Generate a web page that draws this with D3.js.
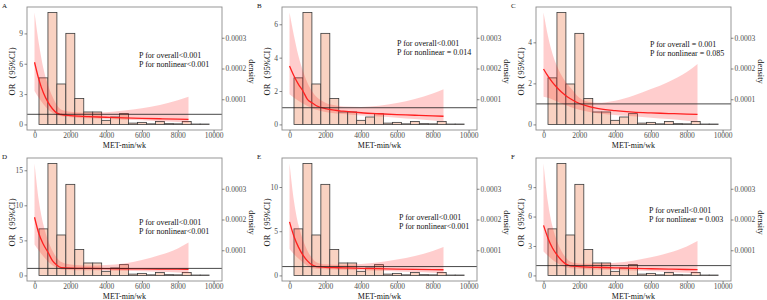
<!DOCTYPE html>
<html>
<head>
<meta charset="utf-8">
<script src="https://cdn.jsdelivr.net/npm/d3@7"></script>
<style>
body { margin: 0; background: #fff; }
svg text { font-family: "Liberation Serif", "Times New Roman", serif; }
</style>
</head>
<body>
<svg id="chart" width="767" height="300"></svg>
<script>
// histogram of MET-min/wk (same sample in every panel), bins 500 wide
var binStart = [250, 750, 1250, 1750, 2250, 2750, 3250, 3750, 4250, 4750,
                5250, 5750, 6250, 6750, 7250, 7750, 8250, 8750, 9250];
var binWidth = 500;
var histDensity = [0.000251, 0.000603, 0.000218, 0.000491, 0.000140, 0.000067, 0.000067, 0.000022, 0.000040, 0.000058,
                   0.000007, 0.000011, 0.000003, 0.000016, 0.000004, 0.000003, 0.000016, 0.000002, 0.000002];

// spline points for the OR curves
var xGrid = [0, 250, 500, 750, 1000, 1250, 1500, 2000, 2500, 3000, 4000, 5000, 6000, 7000, 8000, 8600];

var orA  = [6.15, 4.4, 3.1, 2.2, 1.55, 1.12, 0.98, 0.87, 0.81, 0.77, 0.71, 0.65, 0.6, 0.56, 0.52, 0.5];
var lowA = [3.3, 2.6, 2.0, 1.5, 1.15, 0.9, 0.8, 0.7, 0.64, 0.6, 0.53, 0.47, 0.4, 0.32, 0.25, 0.2];
var upA  = [11.06, 7.9, 5.5, 3.9, 2.75, 1.9, 1.45, 1.25, 1.18, 1.15, 1.2, 1.38, 1.6, 1.93, 2.4, 2.73];

var orB  = [3.5, 2.9, 2.4, 2.0, 1.5, 1.3, 1.12, 0.95, 0.85, 0.79, 0.7, 0.64, 0.59, 0.55, 0.51, 0.49];
var lowB = [1.8, 1.6, 1.42, 1.25, 1.1, 0.98, 0.88, 0.75, 0.67, 0.62, 0.54, 0.47, 0.4, 0.32, 0.24, 0.19];
var upB  = [6.7, 5.3, 4.1, 3.2, 2.5, 2.0, 1.65, 1.3, 1.15, 1.08, 1.05, 1.12, 1.28, 1.52, 1.85, 2.1];

var orC  = [2.7, 2.35, 2.05, 1.8, 1.58, 1.4, 1.25, 1.02, 0.88, 0.78, 0.67, 0.6, 0.56, 0.53, 0.5, 0.49];
var lowC = [1.35, 1.3, 1.22, 1.12, 1.02, 0.93, 0.85, 0.72, 0.62, 0.55, 0.46, 0.4, 0.33, 0.26, 0.18, 0.13];
var upC  = [5.45, 4.3, 3.45, 2.85, 2.4, 2.05, 1.8, 1.3, 1.1, 1.05, 1.15, 1.4, 1.72, 2.08, 2.55, 2.95];

var orD  = [8.3, 5.9, 4.4, 3.3, 2.1, 1.45, 1.1, 1.02, 1.0, 0.99, 0.97, 0.95, 0.93, 0.91, 0.89, 0.88];
var lowD = [4.4, 3.5, 2.7, 2.0, 1.45, 1.05, 0.85, 0.78, 0.75, 0.73, 0.7, 0.66, 0.6, 0.52, 0.42, 0.36];
var upD  = [15.95, 10.5, 7.2, 5.0, 3.5, 2.5, 1.9, 1.55, 1.45, 1.4, 1.49, 1.7, 2.2, 2.9, 3.85, 4.7];

var orE  = [6.05, 4.4, 3.2, 2.3, 1.65, 1.2, 1.0, 0.92, 0.88, 0.85, 0.8, 0.76, 0.72, 0.69, 0.66, 0.64];
var lowE = [3.0, 2.4, 1.9, 1.45, 1.1, 0.85, 0.75, 0.7, 0.66, 0.63, 0.58, 0.52, 0.45, 0.38, 0.3, 0.25];
var upE  = [12.65, 8.4, 5.7, 4.0, 2.8, 2.0, 1.5, 1.25, 1.2, 1.2, 1.3, 1.5, 1.8, 2.2, 2.75, 3.2];

var orF  = [5.1, 3.8, 2.8, 2.1, 1.55, 1.15, 0.98, 0.9, 0.85, 0.82, 0.77, 0.72, 0.68, 0.64, 0.6, 0.58];
var lowF = [2.45, 2.0, 1.6, 1.28, 1.0, 0.82, 0.72, 0.67, 0.63, 0.6, 0.55, 0.49, 0.42, 0.35, 0.27, 0.22];
var upF  = [11.4, 7.4, 5.0, 3.5, 2.5, 1.8, 1.4, 1.22, 1.18, 1.18, 1.28, 1.5, 1.85, 2.3, 2.95, 3.5];

var panelLetters = ["A", "B", "C", "D", "E", "F"];
var pOverall   = ["P for overall<0.001", "P for overall<0.001", "P for overall = 0.001",
                  "P for overall<0.001", "P for overall<0.001", "P for overall<0.001"];
var pNonlinear = ["P for nonlinear<0.001", "P for nonlinear = 0.014", "P for nonlinear = 0.085",
                  "P for nonlinear<0.001", "P for nonlinear<0.001", "P for nonlinear = 0.003"];
var orTicks = [[0, 3, 6, 9], [0, 2, 4, 6], [0, 2, 4], [0, 5, 10, 15], [0, 5, 10], [0, 3, 6, 9]];
var xTicks = [0, 2000, 4000, 6000, 8000, 10000];
var densTicks = [0.0001, 0.0002, 0.0003];

var curves = [[orA, lowA, upA], [orB, lowB, upB], [orC, lowC, upC],
              [orD, lowD, upD], [orE, lowE, upE], [orF, lowF, upF]];

// layout
var colX = [0, 255, 509], rowY = [0, 151];
var textPos = [[139, 58], [142, 46], [141, 47], [139, 74], [144, 69], [140, 62]];

var svg = d3.select("#chart");
svg.append("rect").attr("width", 767).attr("height", 300).attr("fill", "#fff");

function styleAxis(g) {
    g.attr("font-family", null).attr("font-size", null);
    g.select(".domain").remove();
    g.selectAll(".tick line").attr("stroke", "#555").attr("stroke-width", 0.7);
    g.selectAll(".tick text").attr("fill", "#4d4d4d").style("font-size", "7.5px");
}

function drawPanel(i) {
    var ox = colX[i % 3], oy = rowY[Math.floor(i / 3)];
    var left = ox + 27, right = ox + 222, top = oy + 7, bottom = oy + 130;
    var or = curves[i][0], low = curves[i][1], up = curves[i][2];
    var M = d3.max(up);
    var k = M / d3.max(histDensity);

    var x = d3.scaleLinear().domain([-420, 10470]).range([left, right]);
    var y = d3.scaleLinear().domain([-0.05 * M, 1.05 * M]).range([bottom, top]);
    var yd = d3.scaleLinear().domain([0, 0.0004]).range([bottom, top]);

    var g = svg.append("g");

    // histogram
    g.selectAll(".bar").data(histDensity).enter().append("rect")
        .attr("class", "bar")
        .attr("x", function(d, j) { return x(binStart[j]); })
        .attr("width", function(d, j) { return x(binStart[j] + binWidth) - x(binStart[j]); })
        .attr("y", function(d) { return y(d * k); })
        .attr("height", function(d) { return y(0) - y(d * k); })
        .attr("fill", "#f9d2c2")
        .attr("stroke", "#3a3a3a")
        .attr("stroke-width", 0.8);

    var pts = xGrid.map(function(v, j) { return { x: v, or: or[j], lo: low[j], hi: up[j] }; });

    var band = d3.area()
        .x(function(d) { return x(d.x); })
        .y0(function(d) { return y(d.lo); })
        .y1(function(d) { return y(d.hi); })
        .curve(d3.curveMonotoneX);
    g.append("path").datum(pts).attr("d", band)
        .attr("fill", "#ff1a1a").attr("fill-opacity", 0.22);

    var line = d3.line()
        .x(function(d) { return x(d.x); })
        .y(function(d) { return y(d.or); })
        .curve(d3.curveMonotoneX);
    g.append("path").datum(pts).attr("d", line)
        .attr("fill", "none").attr("stroke", "#ff2020").attr("stroke-width", 1.3);

    // reference line OR = 1
    g.append("line")
        .attr("x1", left).attr("x2", right)
        .attr("y1", y(1)).attr("y2", y(1))
        .attr("stroke", "#1a1a1a").attr("stroke-width", 0.8);

    g.append("rect")
        .attr("x", left).attr("y", top)
        .attr("width", right - left).attr("height", bottom - top)
        .attr("fill", "none").attr("stroke", "#8c8c8c").attr("stroke-width", 0.9);

    // axes
    g.append("g").attr("transform", "translate(" + left + ",0)")
        .call(d3.axisLeft(y).tickValues(orTicks[i]).tickFormat(d3.format("d")).tickSize(2.5).tickPadding(1.5))
        .call(styleAxis);
    g.append("g").attr("transform", "translate(0," + bottom + ")")
        .call(d3.axisBottom(x).tickValues(xTicks).tickFormat(d3.format("d")).tickSize(2.5).tickPadding(0.5))
        .call(styleAxis);
    g.append("g").attr("transform", "translate(" + right + ",0)")
        .call(d3.axisRight(yd).tickValues(densTicks).tickFormat(d3.format(".4f")).tickSize(2.5).tickPadding(1))
        .call(styleAxis);

    // titles
    g.append("text")
        .attr("x", (left + right) / 2).attr("y", bottom + 17.5)
        .attr("text-anchor", "middle").attr("font-size", 8).attr("fill", "#111")
        .text("MET-min/wk");
    g.append("text")
        .attr("transform", "translate(" + (ox + 14.5) + "," + ((top + bottom) / 2) + ") rotate(-90)")
        .attr("text-anchor", "middle").attr("font-size", 8.5).attr("fill", "#111")
        .text("OR（95%CI）");
    g.append("text")
        .attr("transform", "translate(" + (ox + 248.5) + "," + ((top + bottom) / 2 + 3) + ") rotate(90)")
        .attr("text-anchor", "middle").attr("font-size", 8.5).attr("fill", "#111")
        .text("density");
    g.append("text")
        .attr("x", ox + 2).attr("y", oy + 8)
        .attr("font-size", 7).attr("fill", "#111")
        .text(panelLetters[i]);

    // p values
    var tx = ox + textPos[i][0], ty = oy + textPos[i][1];
    g.append("text").attr("x", tx).attr("y", ty)
        .attr("font-size", 8).attr("fill", "#111").text(pOverall[i]);
    g.append("text").attr("x", tx).attr("y", ty + 9.3)
        .attr("font-size", 8).attr("fill", "#111").text(pNonlinear[i]);
}

for (var i = 0; i < 6; ++i) {
    drawPanel(i);
}
</script>
</body>
</html>
